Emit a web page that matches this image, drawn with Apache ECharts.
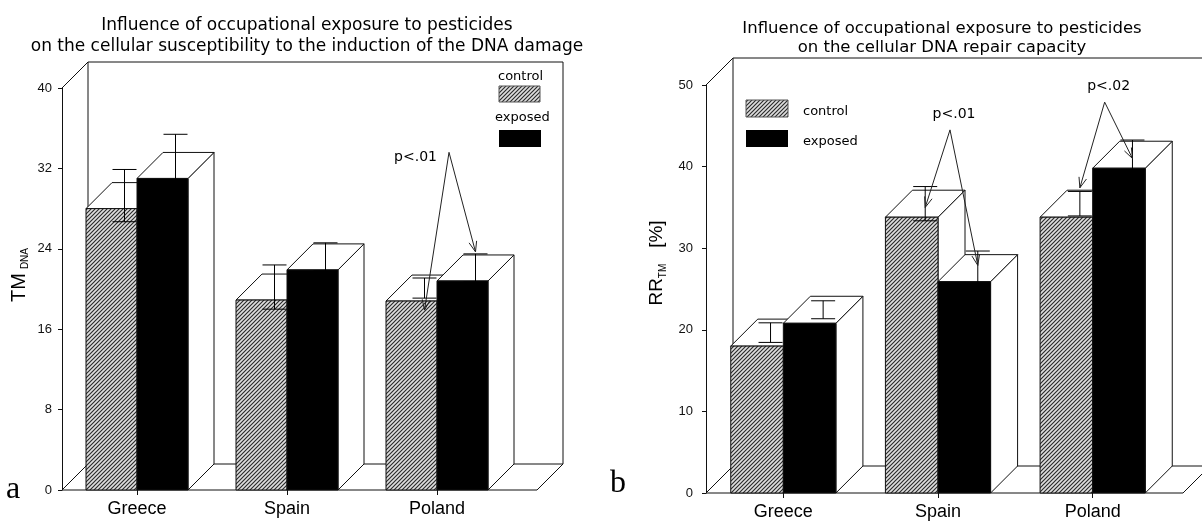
<!DOCTYPE html>
<html><head><meta charset="utf-8">
<script src="https://cdn.jsdelivr.net/npm/echarts@6/dist/echarts.min.js"></script>
<style>html,body{margin:0;padding:0;background:#fff}#c{width:1202px;height:521px}</style>
</head><body><div id="c"></div>
<script>
// ---------- data ----------
const categories = ['Greece', 'Spain', 'Poland'];
// panel a: TM_DNA
const aControl = [28.0, 18.9, 18.8];
const aControlErr = [2.6, 2.2, 1.0];
const aExposed = [31.0, 21.9, 20.8];
const aExposedErr = [3.1, 1.4, 1.4];
const aTicks = [0, 8, 16, 24, 32, 40];
// panel b: RR_TM [%]
const bControl = [18.0, 33.8, 33.8];
const bControlErr = [1.2, 2.1, 1.5];
const bExposed = [20.8, 25.9, 39.8];
const bExposedErr = [1.1, 2.1, 1.8];
const bTicks = [0, 10, 20, 30, 40, 50];
// significance notes: [categoryIndex, label, apexValue, controlTipValue, exposedTipValue]
const aNotes = [[2, 'p<.01', 33.6, 17.9, 23.7]];
const bNotes = [[1, 'p<.01', 44.5, 35.0, 27.9], [2, 'p<.02', 47.9, 37.4, 41.0]];

// ---------- helpers ----------
function hatchCanvas() {
  const c = document.createElement('canvas'); c.width = 4; c.height = 4;
  const g = c.getContext('2d');
  g.fillStyle = '#dedede'; g.fillRect(0, 0, 4, 4);
  g.strokeStyle = '#2a2a2a'; g.lineWidth = 1.15;
  g.beginPath();
  g.moveTo(0, 4); g.lineTo(4, 0);
  g.moveTo(-1, 1); g.lineTo(1, -1);
  g.moveTo(3, 5); g.lineTo(5, 3);
  g.stroke();
  return c;
}
const HATCH = { type: 'pattern', image: hatchCanvas(), repeat: 'repeat' };
const BAR_FRAC = 0.34;
const LINE = '#111';

function seg(x1, y1, x2, y2, color) {
  return { type: 'line', shape: { x1: x1, y1: y1, x2: x2, y2: y2 }, style: { stroke: color || LINE, lineWidth: 1, fill: 'none' } };
}

function frameRender(D, ext) {
  return function (params, api) {
    const cs = params.coordSys;
    const L = cs.x, T = cs.y, R = cs.x + cs.width + ext, B = cs.y + cs.height;
    const segs = [
      [L, T, L + D, T - D], [L + D, T - D, R + D, T - D], [L + D, T - D, L + D, B - D],
      [R + D, T - D, R + D, B - D], [L + D, B - D, R + D, B - D], [L, B, R, B],
      [L, B, L + D, B - D], [R, B, R + D, B - D]
    ];
    return { type: 'group', children: segs.map(s => seg(s[0], s[1], s[2], s[3])) };
  };
}

function barRender(D, pos, fill) {
  return function (params, api) {
    const ci = api.value(0), v = api.value(1), e = api.value(2);
    const band = api.size([1, 0])[0];
    const w = band * BAR_FRAC;
    const base = api.coord([ci, 0]);
    const x1 = base[0] + (pos === 0 ? -w : 0), x2 = x1 + w;
    const y0 = base[1];
    const yt = api.coord([ci, v])[1];
    const st = { fill: '#fff', stroke: LINE, lineWidth: 1 };
    const ch = [];
    ch.push({ type: 'polygon', shape: { points: [[x2, yt], [x2 + D, yt - D], [x2 + D, y0 - D], [x2, y0]] }, style: st });
    ch.push({ type: 'polygon', shape: { points: [[x1, yt], [x1 + D, yt - D], [x2 + D, yt - D], [x2, yt]] }, style: st });
    ch.push({ type: 'rect', shape: { x: x1, y: yt, width: w, height: y0 - yt }, style: { fill: fill, stroke: LINE, lineWidth: 1 } });
    const xm = (x1 + x2) / 2 + D / 2, ym = yt - D / 2;
    const ep = yt - api.coord([ci, v + e])[1];
    const cap = 12;
    ch.push(seg(xm, ym - ep, xm, ym + ep, '#000'));
    ch.push(seg(xm - cap, ym - ep, xm + cap, ym - ep, '#000'));
    ch.push(seg(xm - cap, ym + ep, xm + cap, ym + ep, '#000'));
    return { type: 'group', children: ch };
  };
}

function arrow(A, P) {
  const dx = P[0] - A[0], dy = P[1] - A[1], len = Math.hypot(dx, dy);
  const ux = dx / len, uy = dy / len, h = 11, a = 0.36;
  const pts = [];
  for (const s of [a, -a]) {
    const c = Math.cos(s), sn = Math.sin(s);
    const rx = ux * c - uy * sn, ry = ux * sn + uy * c;
    pts.push([P[0] - rx * h, P[1] - ry * h]);
  }
  const st = { stroke: '#222', lineWidth: 1, fill: 'none' };
  return [
    { type: 'line', shape: { x1: A[0], y1: A[1], x2: P[0], y2: P[1] }, style: st },
    { type: 'polyline', shape: { points: [pts[0], P, pts[1]] }, style: st }
  ];
}

function noteRender(notes, D, placement) {
  return function (params, api) {
    const n = notes[params.dataIndex];
    const ci = n[0];
    const band = api.size([1, 0])[0], w = band * BAR_FRAC;
    const c = api.coord([ci, n[2]]);
    const A = [c[0] + 12, c[1]];
    const Pc = [c[0] - w / 2 + D / 2, api.coord([ci, n[3]])[1]];
    const Pe = [c[0] + w / 2 + D / 2, api.coord([ci, n[4]])[1]];
    const ch = arrow(A, Pc).concat(arrow(A, Pe));
    const font = '14px "DejaVu Sans"';
    if (placement === 'left') {
      ch.push({ type: 'text', x: A[0] - 12, y: A[1] + 5, style: { text: n[1], align: 'right', verticalAlign: 'middle', font: font, fill: '#000' } });
    } else {
      ch.push({ type: 'text', x: A[0] + 4, y: A[1] - 16, style: { text: n[1], align: 'center', verticalAlign: 'middle', font: font, fill: '#000' } });
    }
    return { type: 'group', children: ch };
  };
}

function rows(vals, errs) { return categories.map((c, i) => [i, vals[i], errs[i]]); }

const DA = 26, DB = 27;
const axisFont = { fontFamily: 'Liberation Sans', fontSize: 13, color: '#111' };

const chart = echarts.init(document.getElementById('c'), null, { renderer: 'canvas' });
chart.setOption({
  animation: false,
  backgroundColor: '#fff',
  title: [
    { text: 'Influence of occupational exposure to pesticides\non the cellular susceptibility to the induction of the DNA damage',
      left: 302, top: 10, textAlign: 'center',
      textStyle: { fontFamily: 'DejaVu Sans', fontSize: 17, fontWeight: 'normal', color: '#000', lineHeight: 21, align: 'center' } },
    { text: 'Influence of occupational exposure to pesticides\non the cellular DNA repair capacity',
      left: 937, top: 14, textAlign: 'center',
      textStyle: { fontFamily: 'DejaVu Sans', fontSize: 16.5, fontWeight: 'normal', color: '#000', lineHeight: 19, align: 'center' } }
  ],
  grid: [
    { left: 62, top: 88, width: 450, height: 402, containLabel: false },
    { left: 706, top: 85, width: 464, height: 408, containLabel: false }
  ],
  xAxis: [0, 1].map(g => ({
    type: 'category', gridIndex: g, data: categories,
    axisLine: { show: false },
    axisTick: { show: true, alignWithLabel: true, length: 5, lineStyle: { color: LINE } },
    axisLabel: { fontFamily: 'Liberation Sans', fontSize: 18, color: '#000', margin: 10 },
    splitLine: { show: false }
  })),
  yAxis: [
    { type: 'value', gridIndex: 0, min: aTicks[0], max: aTicks[aTicks.length - 1], interval: aTicks[1] - aTicks[0],
      axisLine: { show: true, lineStyle: { color: LINE } },
      axisTick: { show: true, length: 4, lineStyle: { color: LINE } },
      axisLabel: Object.assign({ margin: 10 }, axisFont), splitLine: { show: false },
      name: '{a|TM}{b|DNA}', nameLocation: 'middle', nameRotate: 90, nameGap: 32,
      nameTextStyle: { padding: [0, 0, 0, 28], rich: {
        a: { fontFamily: 'Liberation Sans', fontSize: 20, color: '#000', lineHeight: 22 },
        b: { fontFamily: 'Liberation Sans', fontSize: 10, color: '#000', lineHeight: 22, verticalAlign: 'bottom', padding: [0, 0, 0, 4] } } } },
    { type: 'value', gridIndex: 1, min: bTicks[0], max: bTicks[bTicks.length - 1], interval: bTicks[1] - bTicks[0],
      axisLine: { show: true, lineStyle: { color: LINE } },
      axisTick: { show: true, length: 4, lineStyle: { color: LINE } },
      axisLabel: Object.assign({ margin: 13 }, axisFont), splitLine: { show: false },
      name: '{a|RR}{b|TM}{a|   [%]}', nameLocation: 'middle', nameRotate: 90, nameGap: 38,
      nameTextStyle: { padding: [0, 0, 0, 52], rich: {
        a: { fontFamily: 'Liberation Sans', fontSize: 19, color: '#000', lineHeight: 22 },
        b: { fontFamily: 'Liberation Sans', fontSize: 10, color: '#000', lineHeight: 22, verticalAlign: 'bottom' } } } }
  ],
  series: [
    { type: 'custom', name: 'frameA', xAxisIndex: 0, yAxisIndex: 0, z: 1, data: [[0, 0]], renderItem: frameRender(DA, 25), silent: true },
    { type: 'custom', name: 'control', xAxisIndex: 0, yAxisIndex: 0, z: 2, data: rows(aControl, aControlErr), renderItem: barRender(DA, 0, HATCH) },
    { type: 'custom', name: 'exposed', xAxisIndex: 0, yAxisIndex: 0, z: 3, data: rows(aExposed, aExposedErr), renderItem: barRender(DA, 1, '#000') },
    { type: 'custom', name: 'notesA', xAxisIndex: 0, yAxisIndex: 0, z: 4, data: aNotes.map(n => [n[0], n[2]]), renderItem: noteRender(aNotes, DA, 'left'), silent: true },
    { type: 'custom', name: 'frameB', xAxisIndex: 1, yAxisIndex: 1, z: 1, data: [[0, 0]], renderItem: frameRender(DB, 13), silent: true },
    { type: 'custom', name: 'control', xAxisIndex: 1, yAxisIndex: 1, z: 2, data: rows(bControl, bControlErr), renderItem: barRender(DB, 0, HATCH) },
    { type: 'custom', name: 'exposed', xAxisIndex: 1, yAxisIndex: 1, z: 3, data: rows(bExposed, bExposedErr), renderItem: barRender(DB, 1, '#000') },
    { type: 'custom', name: 'notesB', xAxisIndex: 1, yAxisIndex: 1, z: 4, data: bNotes.map(n => [n[0], n[2]]), renderItem: noteRender(bNotes, DB, 'top'), silent: true }
  ],
  graphic: [
    // legend panel a
    { type: 'text', left: 498, top: 70, style: { text: 'control', font: '13px "DejaVu Sans"', fill: '#000' } },
    { type: 'rect', shape: { x: 499, y: 86, width: 41, height: 16 }, style: { fill: HATCH, stroke: '#555', lineWidth: 1 } },
    { type: 'text', left: 495, top: 111, style: { text: 'exposed', font: '13px "DejaVu Sans"', fill: '#000' } },
    { type: 'rect', shape: { x: 499, y: 130, width: 42, height: 17 }, style: { fill: '#000' } },
    // legend panel b
    { type: 'rect', shape: { x: 746, y: 100, width: 42, height: 17 }, style: { fill: HATCH, stroke: '#555', lineWidth: 1 } },
    { type: 'text', left: 803, top: 105, style: { text: 'control', font: '13px "DejaVu Sans"', fill: '#000' } },
    { type: 'rect', shape: { x: 746, y: 130, width: 42, height: 17 }, style: { fill: '#000' } },
    { type: 'text', left: 803, top: 135, style: { text: 'exposed', font: '13px "DejaVu Sans"', fill: '#000' } },
    // panel letters
    { type: 'text', left: 6, top: 474, style: { text: 'a', font: '32px "Liberation Serif"', fill: '#000' } },
    { type: 'text', left: 610, top: 468, style: { text: 'b', font: '32px "Liberation Serif"', fill: '#000' } }
  ]
});
</script>
</body></html>
